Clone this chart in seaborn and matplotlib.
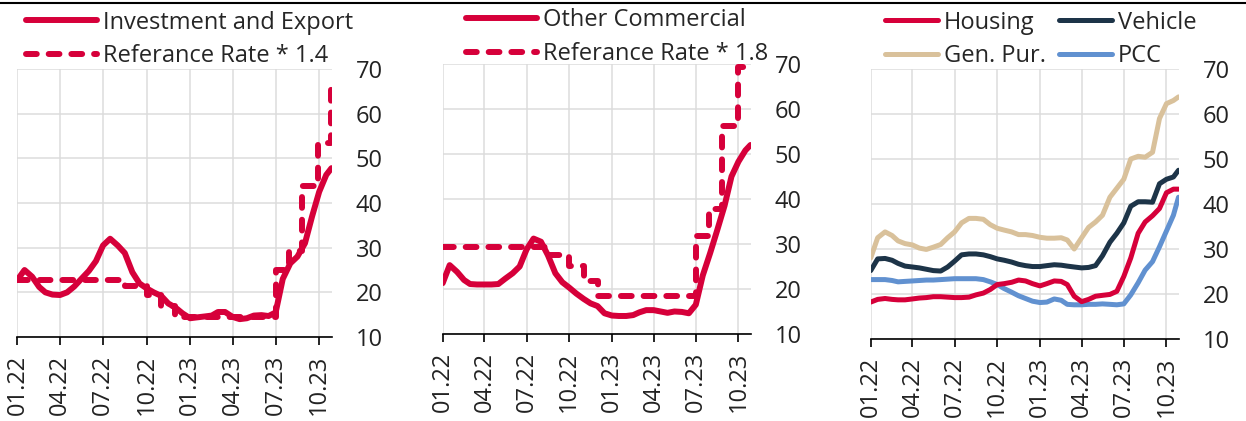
import pandas as pd
import matplotlib.pyplot as plt
import matplotlib.dates as mdates
from matplotlib.lines import Line2D
import seaborn as sns

# Semi-monthly observation dates (1st and 16th), last point end of Oct 2023
dates = list(pd.date_range("2022-01-01", "2023-10-16", freq="SMS-16")) + [pd.Timestamp("2023-10-27")]

invest_export = [22.8, 25.0, 23.5, 21.2, 20.0, 19.5, 19.4, 20.0, 21.3, 23.0, 24.8, 27.0,
                 30.5, 32.0, 30.5, 28.8, 24.5, 22.0, 20.9, 20.0, 19.2, 17.5, 16.6, 15.3,
                 14.2, 14.4, 14.6, 14.8, 15.6, 15.6, 14.5, 14.0, 14.2, 14.8, 14.9, 14.7,
                 15.5, 23.0, 26.5, 28.0, 31.0, 37.0, 42.5, 46.3, 47.8]
other_commercial = [21.3, 25.3, 23.8, 22.0, 21.1, 21.0, 21.0, 21.0, 21.1, 22.3, 23.5, 25.0,
                    28.8, 31.2, 30.5, 27.5, 23.5, 21.5, 20.3, 19.0, 17.8, 16.8, 16.2, 14.6,
                    14.1, 14.0, 14.0, 14.2, 14.8, 15.3, 15.3, 15.0, 14.7, 15.0, 14.9, 14.6,
                    16.5, 23.0, 28.0, 33.0, 38.5, 45.0, 48.3, 50.8, 52.0]
housing = [18.2, 18.8, 19.0, 18.8, 18.7, 18.7, 18.9, 19.1, 19.2, 19.4, 19.4, 19.3,
           19.2, 19.2, 19.3, 19.8, 20.2, 21.0, 22.1, 22.3, 22.6, 23.1, 22.9, 22.3,
           21.8, 22.3, 22.9, 22.8, 22.1, 19.5, 18.3, 18.8, 19.5, 19.7, 19.9, 20.6,
           23.9, 28.0, 33.5, 36.0, 37.4, 39.0, 42.5, 43.3, 43.3]
vehicle = [25.2, 27.8, 27.9, 27.5, 26.8, 26.2, 26.0, 25.8, 25.5, 25.2, 25.1, 26.0,
           27.3, 28.7, 28.9, 28.9, 28.7, 28.3, 27.8, 27.5, 27.1, 26.6, 26.3, 26.1,
           26.1, 26.3, 26.5, 26.4, 26.2, 26.0, 25.8, 25.9, 26.3, 28.5, 31.5, 33.5,
           35.8, 39.5, 40.5, 40.5, 40.4, 44.5, 45.5, 46.0, 47.5]
gen_pur = [28.0, 32.5, 33.8, 33.0, 31.8, 31.2, 30.9, 30.2, 29.9, 30.4, 31.0, 32.5,
           33.8, 35.8, 36.8, 36.8, 36.6, 35.4, 34.6, 34.2, 33.8, 33.2, 33.2, 33.0,
           32.6, 32.4, 32.4, 32.5, 32.0, 30.0, 32.5, 34.8, 36.0, 37.5, 41.5, 43.5,
           45.5, 50.0, 50.6, 50.4, 51.5, 59.0, 62.3, 63.0, 63.8]
pcc = [23.2, 23.2, 23.2, 23.0, 22.7, 22.8, 22.9, 23.0, 23.1, 23.1, 23.2, 23.3,
       23.4, 23.4, 23.4, 23.4, 23.2, 22.7, 22.1, 21.2, 20.4, 19.6, 19.0, 18.4,
       18.1, 18.2, 18.9, 18.6, 17.7, 17.6, 17.6, 17.7, 17.7, 17.8, 17.7, 17.6,
       17.8, 19.8, 22.5, 25.3, 27.2, 30.5, 34.0, 37.5, 41.5]

# Reference rate step changes
ref_dates = pd.to_datetime(["2022-01-01", "2022-08-16", "2022-10-01", "2022-11-01", "2022-12-01",
                            "2023-07-01", "2023-07-29", "2023-08-26", "2023-09-29", "2023-10-27"])
ref_x14 = [22.8, 21.4, 19.5, 16.9, 14.4, 25.0, 29.2, 43.7, 53.5, 67.2]
ref_x18 = [29.4, 27.6, 25.0, 21.8, 18.5, 31.8, 37.7, 56.2, 69.4, 69.4]

tick_dates = pd.date_range("2022-01-01", "2023-10-01", freq="QS")
y_ticks = [10, 20, 30, 40, 50, 60, 70]

RED = "#d6003a"
NAVY = "#1d3448"
TAN = "#d9c19b"
BLUE = "#6191d0"
FS = 17

sns.set_style("white")
plt.rcParams["font.family"] = ["Open Sans", "DejaVu Sans"]
plt.rcParams["font.size"] = FS

fig = plt.figure(figsize=(12.46, 4.21), dpi=100)
ax1 = fig.add_axes([0.0140, 0.1995, 0.2524, 0.6366])
ax2 = fig.add_axes([0.3553, 0.2067, 0.2474, 0.6413])
ax3 = fig.add_axes([0.6988, 0.1948, 0.2474, 0.6413])

solid_kw = dict(solid_capstyle="round", solid_joinstyle="round")
dash_kw = dict(linestyle=(0, (1.8, 2.0)), dash_capstyle="round", drawstyle="steps-post")

sns.lineplot(x=dates, y=invest_export, ax=ax1, color=RED, lw=4.3, label="Investment and Export", **solid_kw)
sns.lineplot(x=ref_dates, y=ref_x14, ax=ax1, color=RED, lw=4.3, label="Referance Rate * 1.4", **dash_kw)

sns.lineplot(x=dates, y=other_commercial, ax=ax2, color=RED, lw=4.3, label="Other Commercial", **solid_kw)
sns.lineplot(x=ref_dates, y=ref_x18, ax=ax2, color=RED, lw=4.3, label="Referance Rate * 1.8", **dash_kw)

sns.lineplot(x=dates, y=pcc, ax=ax3, color=BLUE, lw=3.6, label="PCC", **solid_kw)
sns.lineplot(x=dates, y=gen_pur, ax=ax3, color=TAN, lw=3.6, label="Gen. Pur.", **solid_kw)
sns.lineplot(x=dates, y=vehicle, ax=ax3, color=NAVY, lw=3.6, label="Vehicle", **solid_kw)
sns.lineplot(x=dates, y=housing, ax=ax3, color=RED, lw=3.6, label="Housing", **solid_kw)

for ax in (ax1, ax2, ax3):
    ax.set_xlim(pd.Timestamp("2022-01-01"), pd.Timestamp("2023-10-28"))
    ax.set_ylim(10, 70)
    ax.set_yticks(y_ticks)
    ax.set_xticks(tick_dates)
    ax.xaxis.set_major_formatter(mdates.DateFormatter("%m.%y"))
    ax.yaxis.tick_right()
    ax.tick_params(axis="y", length=0, pad=17, labelsize=FS, colors="#222222")
    ax.tick_params(axis="x", bottom=True, length=6, width=1.2, color="black", pad=7,
                   labelsize=FS, labelrotation=90, labelcolor="#222222")
    ax.grid(True, color="#dcdcdc", lw=1.1)
    ax.set_axisbelow(True)
    for s in ("left", "top", "right"):
        ax.spines[s].set_visible(False)
    ax.spines["bottom"].set_color("black")
    ax.spines["bottom"].set_linewidth(1.2)
    ax.set_xlabel("")
    ax.set_ylabel("")

leg_kw = dict(frameon=False, fontsize=FS, handletextpad=0.25,
              borderpad=0, borderaxespad=0, labelspacing=0.42, bbox_transform=fig.transFigure)
ax1.legend(loc="upper left", bbox_to_anchor=(0.021, 0.975), handlelength=3.0, **leg_kw)
ax2.legend(loc="upper left", bbox_to_anchor=(0.374, 0.98), handlelength=3.0, **leg_kw)
h, l = ax3.get_legend_handles_labels()
order = [3, 1, 2, 0]
ax3.legend([h[i] for i in order], [l[i] for i in order], loc="upper left", ncol=2,
           bbox_to_anchor=(0.710, 0.975), handlelength=2.25, columnspacing=0.55, **leg_kw)

fig.add_artist(Line2D([0, 1], [0.992, 0.992], transform=fig.transFigure, color="black", lw=1.5))

fig.savefig("out.png", dpi=100)
